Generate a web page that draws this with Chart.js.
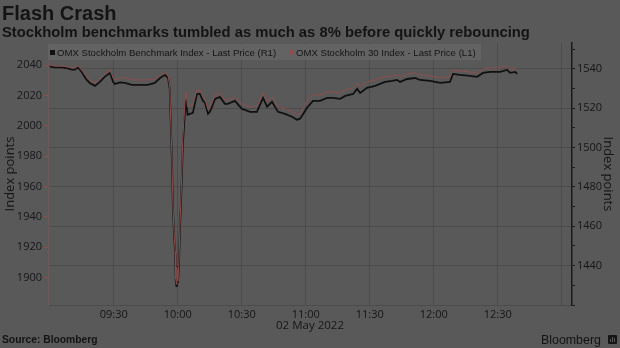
<!DOCTYPE html>
<html>
<head>
<meta charset="utf-8">
<script src="https://cdn.jsdelivr.net/npm/chart.js@4.4.1/dist/chart.umd.min.js"></script>
<style>
  html, body { margin: 0; padding: 0; background: #595959; }
  #wrap { position: relative; width: 620px; height: 348px; overflow: hidden; background: #595959; }
  #c { position: absolute; left: 0; top: 0; }
  .t { position: absolute; white-space: nowrap; color: #141414; font-family: "Liberation Sans", Arial, sans-serif; line-height: 1; }
  #title { left: 2px; top: 3px; font-size: 20px; font-weight: bold; }
  #sub { left: 2px; top: 24.5px; font-size: 14.8px; font-weight: bold; }
  #legend { position: absolute; left: 48px; top: 44px; width: 433px; height: 16px; background: #636363; }
  .sw { position: absolute; top: 6px; width: 5px; height: 5px; }
  .lt { position: absolute; top: 4px; font-size: 9.6px; color: #151515; font-family: "Liberation Sans", Arial, sans-serif; white-space: nowrap; line-height: 1; }
  #source { left: 2px; top: 335.3px; font-size: 10.3px; font-weight: bold; }
  #brand { left: 541px; top: 333.5px; font-size: 12.4px; }
  #icon { position: absolute; left: 608px; top: 335px; width: 9px; height: 9px; background: #151515; border-radius: 1px; }
  #icon i { position: absolute; bottom: 2px; width: 1px; background: #595959; }
</style>
</head>
<body>
<div id="wrap">
  <canvas id="c" width="620" height="348"></canvas>
  <div class="t" id="title">Flash Crash</div>
  <div class="t" id="sub">Stockholm benchmarks tumbled as much as 8% before quickly rebouncing</div>
  <div id="legend"></div>
  <div class="t" id="source">Source: Bloomberg</div>
  <div class="t" id="brand">Bloomberg</div>
  <div id="icon"><i style="left:2px;height:3px"></i><i style="left:4px;height:5px"></i><i style="left:6px;height:4px"></i></div>
</div>
<script>
// ---- data ----
const timeLabels = ["09:00:00","09:02:30","09:05:45","09:08:30","09:10:30","09:11:45","09:13:15","09:15:00","09:17:00","09:18:45",
"09:21:15","09:23:30","09:25:45","09:28:15","09:29:45","09:30:30","09:33:00","09:35:15","09:38:30","09:42:15",
"09:46:00","09:49:15","09:51:45","09:54:00","09:55:30","09:56:15","09:56:45","09:57:15","09:57:45","09:58:15",
"09:58:45","09:59:06","09:59:24","09:59:36","10:00:06","10:00:36","10:01:00","10:01:42","10:02:24","10:03:24",
"10:03:54","10:04:36","10:05:42","10:07:06","10:09:00","10:10:24","10:11:48","10:12:48","10:14:12","10:15:06",
"10:17:30","10:19:48","10:22:06","10:23:30","10:26:48","10:30:06","10:31:30","10:33:54","10:37:06","10:40:00",
"10:41:54","10:44:12","10:47:00","10:50:18","10:53:36","10:55:54","10:57:18","10:58:18","11:00:36","11:03:24",
"11:06:42","11:10:00","11:12:48","11:16:06","11:18:30","11:22:12","11:24:06","11:25:30","11:28:42","11:32:30",
"11:34:48","11:37:12","11:40:30","11:42:48","11:44:12","11:47:30","11:51:12","11:53:36","11:58:18","12:03:00",
"12:07:36","12:09:00","12:12:18","12:17:00","12:20:18","12:23:06","12:26:24","12:31:06","12:34:24","12:35:48",
"12:38:12","12:39:06"];

// OMX Stockholm Benchmark (right axis, R1)
const benchmarkValues = [1541.3,1540.8,1540.8,1540.3,1539.7,1539.7,1540.8,1538.5,1534.9,1532.9,
1531.4,1533.4,1536.0,1538.0,1533.4,1532.4,1533.2,1532.9,1531.9,1531.9,
1531.9,1532.9,1535.4,1537.0,1535.4,1529.9,1512.2,1495.4,1470.1,1456.5,
1446.3,1432.2,1429.6,1439.8,1431.1,1440.8,1457.5,1477.2,1501.5,1518.7,
1524.8,1516.7,1517.2,1517.7,1527.3,1527.3,1523.8,1522.8,1517.2,1518.2,
1524.8,1525.8,1522.3,1522.3,1523.8,1519.7,1519.2,1518.2,1518.2,1525.3,
1520.8,1523.3,1518.2,1517.2,1515.7,1514.2,1514.7,1516.2,1520.3,1523.8,
1523.8,1525.3,1525.3,1524.8,1526.3,1527.3,1529.9,1527.8,1530.4,1531.4,
1532.4,1533.4,1533.9,1534.4,1533.4,1534.9,1535.4,1534.4,1533.9,1532.9,
1533.4,1537.5,1537.0,1536.5,1536.0,1538.0,1538.5,1538.5,1539.5,1538.0,
1538.5,1537.5];

// OMX Stockholm 30 (left axis, L1)
const omx30Values = [2040.0,2039.3,2039.3,2038.7,2038.0,2038.0,2039.3,2036.7,2032.8,2030.2,
2028.2,2030.8,2034.1,2036.7,2031.5,2030.2,2031.5,2031.5,2030.2,2030.2,
2030.2,2030.8,2033.4,2034.8,2032.8,2025.6,2002.6,1981.0,1948.2,1930.5,
1917.4,1899.0,1895.7,1906.9,1897.7,1910.8,1933.1,1959.3,1992.1,2015.7,
2022.3,2012.5,2013.8,2013.8,2023.6,2023.6,2019.0,2017.7,2010.5,2011.8,
2020.3,2021.6,2017.0,2017.0,2019.0,2014.4,2013.8,2012.5,2012.5,2021.6,
2015.7,2019.0,2012.5,2011.1,2009.2,2007.2,2007.9,2010.5,2016.4,2020.3,
2020.3,2022.3,2022.3,2021.6,2023.6,2024.9,2028.2,2025.6,2028.9,2030.2,
2031.5,2032.1,2032.8,2033.4,2032.1,2034.1,2034.8,2033.4,2032.8,2031.5,
2032.1,2036.7,2036.1,2035.4,2034.8,2037.4,2038.0,2038.0,2039.3,2037.4,
2038.0,2036.7];

const seriesNames = ["OMX Stockholm Benchmark Index - Last Price (R1)", "OMX Stockholm 30 Index - Last Price (L1)"];
const seriesColors = ["#111111", "#8e4e4e"];
const leftTickValues = [1900, 1920, 1940, 1960, 1980, 2000, 2020, 2040];
const rightTickValues = [1420, 1430, 1440, 1450, 1460, 1470, 1480, 1490, 1500, 1510, 1520, 1530, 1540, 1550];
const rightLabelValues = [1440, 1460, 1480, 1500, 1520, 1540];
const xTickTimes = ["09:00", "09:30", "10:00", "10:30", "11:00", "11:30", "12:00", "12:30", "13:00"];
const xLabelTimes = ["09:30", "10:00", "10:30", "11:00", "11:30", "12:00", "12:30"];
const dateLabel = "02 May 2022";
const axisTitle = "Index points";

// ---- helpers ----
function toMin(s) {
  const p = s.split(":").map(Number);
  return (p[0] - 9) * 60 + p[1] + (p[2] || 0) / 60;
}
function fmt(m) {
  const h = Math.floor(m / 60) + 9, mm = Math.round(m % 60);
  return String(h).padStart(2, "0") + ":" + String(mm).padStart(2, "0");
}

// legend (html)
const lg = document.getElementById("legend");
const legendX = [[2, 9], [241, 248]];
seriesNames.forEach((n, i) => {
  const sw = document.createElement("div");
  sw.className = "sw"; sw.style.left = legendX[i][0] + "px"; sw.style.background = seriesColors[i];
  lg.appendChild(sw);
  const tx = document.createElement("div");
  tx.className = "lt"; tx.style.left = legendX[i][1] + "px"; tx.textContent = n;
  lg.appendChild(tx);
});

const tickFont = { family: "'Open Sans', 'Liberation Sans', sans-serif", size: 11 };
const ink = "#161616";
const gridCol = "rgba(0,0,0,0.14)";

new Chart(document.getElementById("c"), {
  type: "line",
  data: {
    datasets: [
      {
        label: seriesNames[0],
        data: timeLabels.map((t, i) => ({ x: toMin(t), y: benchmarkValues[i] })),
        yAxisID: "yR",
        borderColor: seriesColors[0],
        borderWidth: 1.8,
        pointRadius: 0,
        tension: 0,
        order: 1
      },
      {
        label: seriesNames[1],
        data: timeLabels.map((t, i) => ({ x: toMin(t), y: omx30Values[i] })),
        yAxisID: "yL",
        borderColor: seriesColors[1],
        borderWidth: 1,
        pointRadius: 0,
        tension: 0,
        order: 0
      }
    ]
  },
  options: {
    responsive: false,
    animation: false,
    devicePixelRatio: 1,
    layout: { padding: { left: 0, right: 0, top: 43, bottom: 0 } },
    plugins: { legend: { display: false }, tooltip: { enabled: false } },
    scales: {
      x: {
        type: "linear",
        min: -0.8,
        max: 244.8,
        afterBuildTicks: s => { s.ticks = xTickTimes.map(t => ({ value: toMin(t) })); },
        afterFit: s => { s.height = 43; },
        ticks: {
          autoSkip: false, maxRotation: 0, padding: 3, color: ink, font: tickFont,
          callback: v => (xLabelTimes.includes(fmt(v)) ? fmt(v) : "")
        },
        grid: {
          drawTicks: false,
          color: ctx => (ctx.tick && ctx.tick.value > 1 ? gridCol : "rgba(0,0,0,0)")
        },
        border: { color: gridCol, width: 1 },
        title: {
          display: true, text: dateLabel, color: ink,
          font: { family: "'Open Sans', 'Liberation Sans', sans-serif", size: 11.5 },
          padding: { top: 0, bottom: 15 }
        }
      },
      yL: {
        type: "linear",
        position: "left",
        min: 1882,
        max: 2054.5,
        afterBuildTicks: s => { s.ticks = leftTickValues.map(v => ({ value: v })); },
        afterFit: s => { s.width = 48; },
        ticks: { color: ink, font: tickFont, padding: 2, callback: v => String(v) },
        grid: { drawOnChartArea: false, tickLength: 4, tickColor: "#8e4e4e", tickWidth: 1 },
        border: { color: "#6a5a5a", width: 1 },
        title: {
          display: true, text: axisTitle, color: ink,
          font: { family: "'Open Sans', 'Liberation Sans', sans-serif", size: 13 },
          padding: { top: 2, bottom: 0 }
        }
      },
      yR: {
        type: "linear",
        position: "right",
        min: 1420,
        max: 1553.2,
        afterBuildTicks: s => { s.ticks = rightTickValues.map(v => ({ value: v })); },
        afterFit: s => { s.width = 48; },
        ticks: {
          color: ink, font: tickFont, padding: 2, autoSkip: false,
          callback: v => (rightLabelValues.includes(v) ? String(v) : "")
        },
        grid: {
          tickLength: 3, tickColor: "#1a1a1a", tickWidth: 1,
          color: ctx => (ctx.tick && rightLabelValues.includes(ctx.tick.value) ? gridCol : "rgba(0,0,0,0)")
        },
        border: { color: "#1a1a1a", width: 1.5 },
        title: {
          display: true, text: axisTitle, color: ink,
          font: { family: "'Open Sans', 'Liberation Sans', sans-serif", size: 13 },
          padding: { top: 4, bottom: 0 }
        }
      }
    }
  }
});
</script>
</body>
</html>
